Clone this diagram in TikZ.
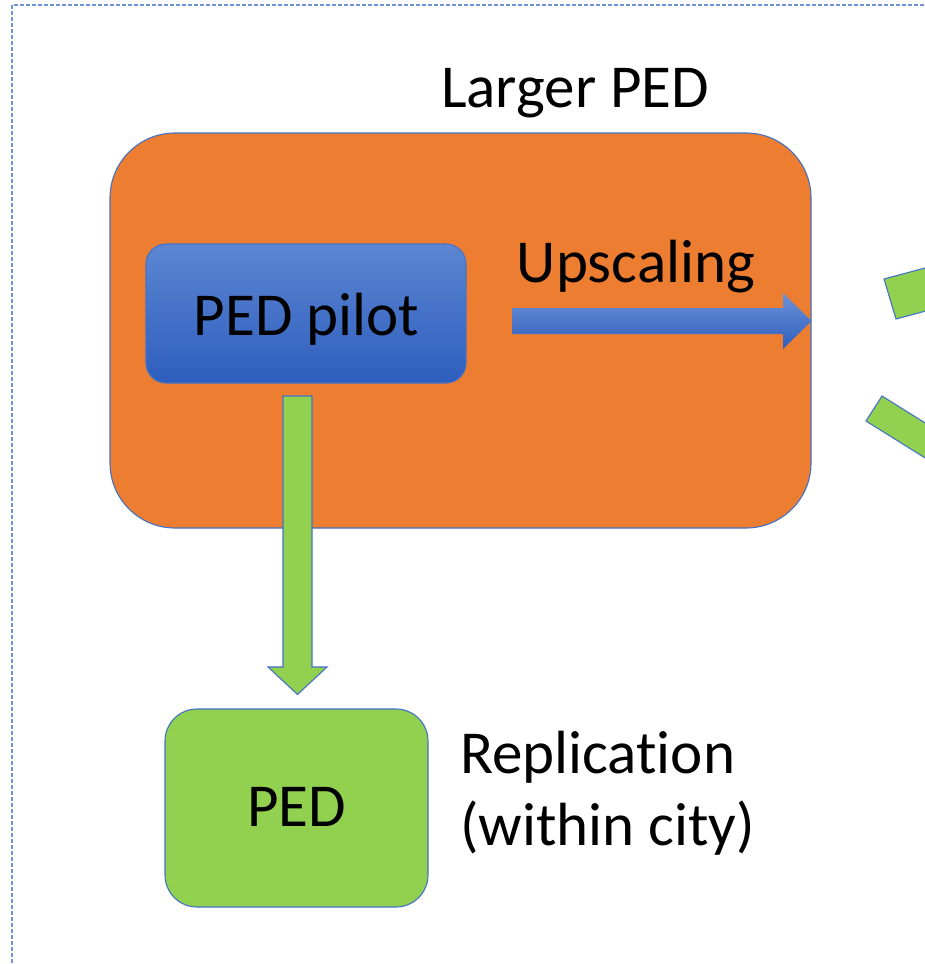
\documentclass[tikz,border=0pt]{standalone}
\usepackage{fontspec}
\setmainfont{Carlito}[Ligatures={NoCommon,NoRequired,NoContextual}]
\usetikzlibrary{calc}
\definecolor{offorange}{RGB}{237,125,49}
\definecolor{offgreen}{RGB}{146,208,80}
\definecolor{offline}{RGB}{68,114,196}
\definecolor{dashblue}{RGB}{110,148,215}
\definecolor{bluetop}{RGB}{92,134,210}
\definecolor{bluebot}{RGB}{46,94,190}
\tikzset{
  outl/.style={draw=offline, line width=1.1pt},
  orangebox/.style={outl, fill=offorange, rounded corners=65pt, inner sep=0pt},
  pilotbox/.style={outl, top color=bluetop, bottom color=bluebot, rounded corners=20pt, inner sep=0pt},
  greenbox/.style={outl, fill=offgreen, rounded corners=32pt, inner sep=0pt},
  greenarrow/.style={outl, fill=offgreen, line join=miter},
  bluearrow/.style={draw=none, top color=bluetop!90!white, bottom color=bluebot},
  lbl/.style={inner sep=0pt, font=\fontsize{61}{74}\selectfont},
  frame/.style={draw=dashblue, line width=1.5pt, dash pattern=on 4pt off 2pt}
}
\begin{document}
\begin{tikzpicture}[x=1pt,y=-1pt]
\useasboundingbox (0,0) rectangle (925,964);
\clip (0,0) rectangle (925,964);
\fill[white] (0,0) rectangle (925,964);
% dashed frame
\draw[frame] (12,975) -- (12,5) -- (935,5);
% boxes
\node[orangebox, minimum width=701pt, minimum height=395pt] (larger) at (460.5,330.5) {};
\node[pilotbox, minimum width=320pt, minimum height=139pt] (pilot) at (306,313.5) {};
\node[greenbox, minimum width=263pt, minimum height=198pt] (ped) at (296.5,808) {};
% labels
\node[lbl, anchor=base] (lbllarger) at (575,107) {Larger PED};
\node[lbl, anchor=base] (lblpilot) at (306.5,335) {PED pilot};
\node[lbl, anchor=base] (lblped) at (296.5,826) {PED};
\node[lbl, anchor=base] (lblup) at (636,282) {Upscaling};
\node[lbl, anchor=base west] (repl1) at (460,773) {Replication};
\node[lbl, anchor=base west] (repl2) at (460,845) {(within city)};
% blue upscaling arrow
\coordinate (uptip) at (larger.east |- 0,321);
\path[bluearrow] (512,308) -- (783,308) -- (783,293) -- (uptip) -- (783,349) -- (783,334) -- (512,334) -- cycle;
% green replication arrow
\coordinate (gtip) at ($(ped.north)+(1,-14)$);
\draw[greenarrow] (283,396) -- (312,396) -- (312,667) -- (327,667) -- (gtip) -- (268,667) -- (283,667) -- cycle;
% partial green shapes at right edge
\draw[greenarrow] (884,279) -- (896,319) -- ++(-15:200) -- ($(884,279)+(-15:200)$) -- cycle;
\draw[greenarrow] (882,396) -- (866,421) -- ++(32:200) -- ($(882,396)+(32:200)$) -- cycle;
\end{tikzpicture}
\end{document}
